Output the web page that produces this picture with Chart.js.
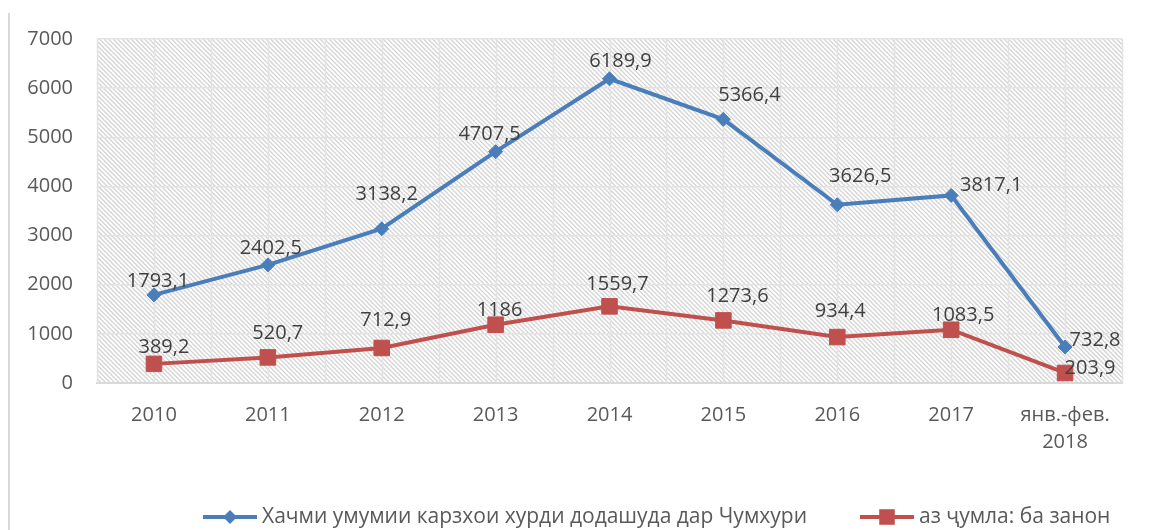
<!DOCTYPE html>
<html>
<head>
<meta charset="utf-8">
<script src="https://cdn.jsdelivr.net/npm/chart.js@4.4.1/dist/chart.umd.min.js"></script>
<style>
  html, body { margin: 0; padding: 0; background: #ffffff; }
  #wrap { position: relative; width: 1149px; height: 530px; }
  #frame { position: absolute; left: 8px; top: 13px; width: 2px; height: 517px; background: #d9d9d9; }
  canvas { position: absolute; left: 0; top: 0; }
</style>
</head>
<body>
<div id="wrap">
  <canvas id="c" width="1149" height="530"></canvas>
  <div id="frame"></div>
</div>
<script>
// ---- data ----
const categories = ['2010', '2011', '2012', '2013', '2014', '2015', '2016', '2017', ['янв.-фев.', '2018']];
const seriesTotalName = 'Хачми умумии карзхои хурди додашуда дар Чумхури';
const seriesTotal = [1793.1, 2402.5, 3138.2, 4707.5, 6189.9, 5366.4, 3626.5, 3817.1, 732.8];
const seriesWomenName = 'аз ҷумла: ба занон';
const seriesWomen = [389.2, 520.7, 712.9, 1186, 1559.7, 1273.6, 934.4, 1083.5, 203.9];
const yTicks = [0, 1000, 2000, 3000, 4000, 5000, 6000, 7000];

// ---- label placement (relative to each point) ----
const totalLabelDx = [4, 3, 5, -6, 11, 26, 23, 40, 30];
const totalLabelDy = [-14, -17, -34, -17, -18, -24, -28, -10, -7];
const womenLabelDx = [10, 10, 4, 4, 8, 14, 3, 12, 25];
const womenLabelDy = [-17, -24, -28, -14, -22, -24, -26, -14, -5];

const FONT = '"Open Sans", "Noto Sans", sans-serif';
const BLUE = '#4a7ebb';
const RED = '#c0504d';

function fmt(v) { return String(v).replace('.', ','); }

const hatchPlugin = {
  id: 'hatch',
  beforeDraw(chart) {
    const { ctx, chartArea: a } = chart;
    ctx.save();
    ctx.fillStyle = '#ffffff';
    ctx.fillRect(a.left, a.top, a.right - a.left, a.bottom - a.top);
    ctx.beginPath();
    ctx.rect(a.left, a.top, a.right - a.left, a.bottom - a.top);
    ctx.clip();
    ctx.strokeStyle = '#d4d4d4';
    ctx.lineWidth = 1.3;
    const h = a.bottom - a.top;
    ctx.beginPath();
    for (let k = a.left - h; k < a.right; k += 4.5) {
      ctx.moveTo(k, a.top);
      ctx.lineTo(k + h, a.bottom);
    }
    ctx.stroke();
    ctx.restore();
  },
  beforeDatasetsDraw(chart) {
    const { ctx, chartArea: a } = chart;
    const xs = chart.scales.x;
    ctx.save();
    ctx.strokeStyle = '#e3e3e3';
    ctx.lineWidth = 1.5;
    ctx.beginPath();
    const n = categories.length;
    const step = (a.right - a.left) / n;
    for (let i = 0; i < n; i++) {
      const c = xs.getPixelForValue(i);
      [c - step / 2, c, c + step / 2].forEach(x => {
        ctx.moveTo(Math.round(x) + 0.5, a.top);
        ctx.lineTo(Math.round(x) + 0.5, a.bottom);
      });
    }
    ctx.stroke();
    ctx.restore();
  }
};

const labelPlugin = {
  id: 'vlabels',
  afterDatasetsDraw(chart) {
    const { ctx } = chart;
    const offs = [[totalLabelDx, totalLabelDy], [womenLabelDx, womenLabelDy]];
    ctx.save();
    ctx.font = '20px ' + FONT;
    ctx.fillStyle = '#404040';
    ctx.textAlign = 'center';
    ctx.textBaseline = 'middle';
    chart.data.datasets.forEach((ds, di) => {
      const meta = chart.getDatasetMeta(di);
      meta.data.forEach((pt, i) => {
        ctx.fillText(fmt(ds.data[i]), pt.x + offs[di][0][i], pt.y + offs[di][1][i]);
      });
    });
    ctx.restore();
  },
  afterDraw(chart) {
    const { ctx } = chart;
    const y = 517;
    const items = [
      { x: 203, ds: chart.data.datasets[0] },
      { x: 860, ds: chart.data.datasets[1] }
    ];
    ctx.save();
    ctx.font = '21px ' + FONT;
    ctx.textBaseline = 'middle';
    ctx.textAlign = 'left';
    items.forEach(it => {
      const ds = it.ds;
      ctx.strokeStyle = ds.borderColor;
      ctx.lineWidth = 4;
      ctx.beginPath();
      ctx.moveTo(it.x, y);
      ctx.lineTo(it.x + 54, y);
      ctx.stroke();
      ctx.fillStyle = ds.pointBackgroundColor;
      ctx.beginPath();
      if (ds.pointStyle === 'rectRot') {
        const r = ds.pointRadius;
        ctx.moveTo(it.x + 27, y - r); ctx.lineTo(it.x + 27 + r, y);
        ctx.lineTo(it.x + 27, y + r); ctx.lineTo(it.x + 27 - r, y);
        ctx.closePath();
      } else {
        const s = ds.pointRadius * Math.SQRT1_2;
        ctx.rect(it.x + 27 - s, y - s, 2 * s, 2 * s);
      }
      ctx.fill();
      ctx.fillStyle = '#595959';
      ctx.fillText(ds.label, it.x + 59, y);
    });
    ctx.restore();
  }
};

new Chart(document.getElementById('c'), {
  type: 'line',
  data: {
    labels: categories,
    datasets: [
      {
        label: seriesTotalName,
        data: seriesTotal,
        borderColor: BLUE,
        backgroundColor: BLUE,
        pointBackgroundColor: BLUE,
        pointBorderColor: BLUE,
        borderWidth: 4,
        pointStyle: 'rectRot',
        pointRadius: 7,
        pointHoverRadius: 7,
        pointBorderWidth: 1,
        tension: 0,
        fill: false
      },
      {
        label: seriesWomenName,
        data: seriesWomen,
        borderColor: RED,
        backgroundColor: RED,
        pointBackgroundColor: RED,
        pointBorderColor: RED,
        borderWidth: 4,
        pointStyle: 'rect',
        pointRadius: 11,
        pointHoverRadius: 11,
        pointBorderWidth: 1,
        tension: 0,
        fill: false
      }
    ]
  },
  options: {
    responsive: false,
    animation: false,
    events: [],
    layout: { padding: { left: 0, top: 39, right: 27, bottom: 0 } },
    plugins: { legend: { display: false }, tooltip: { enabled: false } },
    scales: {
      x: {
        offset: true,
        grid: { display: false, drawTicks: false },
        border: { display: true, color: '#d9d9d9', width: 2 },
        ticks: {
          color: '#595959',
          font: { family: FONT, size: 20, lineHeight: 1.35 },
          padding: 19,
          maxRotation: 0,
          autoSkip: false
        },
        afterFit(scale) { scale.height = 147; }
      },
      y: {
        min: 0,
        max: 7000,
        afterBuildTicks(scale) { scale.ticks = yTicks.map(v => ({ value: v })); },
        grid: { color: '#e3e3e3', lineWidth: 1.5, drawTicks: false },
        border: { display: false },
        ticks: {
          color: '#595959',
          font: { family: FONT, size: 20 },
          padding: 24,
          callback: (v) => String(v)
        },
        afterFit(scale) { scale.width = 97; }
      }
    }
  },
  plugins: [hatchPlugin, labelPlugin]
});
</script>
</body>
</html>
